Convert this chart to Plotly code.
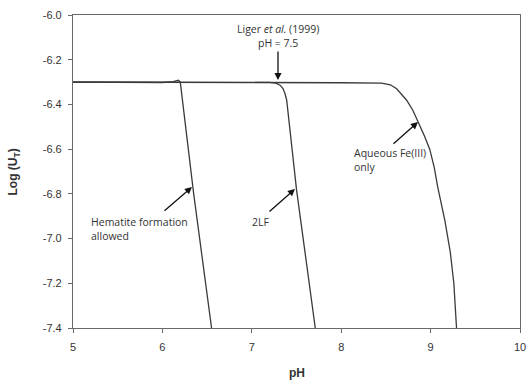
import plotly.graph_objects as go

# Data
hem_ph = [5.0, 5.5, 6.0, 6.12, 6.18, 6.2, 6.35, 6.55]
hem_logu = [-6.300, -6.302, -6.302, -6.298, -6.292, -6.300, -6.800, -7.400]

lf_ph = [5.0, 6.0, 7.0, 7.2, 7.27, 7.32, 7.35, 7.37, 7.39, 7.5, 7.71]
lf_logu = [-6.300, -6.300, -6.300, -6.301, -6.305, -6.315, -6.33, -6.35, -6.38, -6.78, -7.40]

aq_ph = [5.0, 6.0, 7.0, 8.0, 8.45, 8.55, 8.62, 8.68, 8.73, 8.80, 8.86, 8.93, 8.99, 9.04, 9.08, 9.12, 9.16, 9.22, 9.26, 9.29]
aq_logu = [-6.300, -6.300, -6.300, -6.303, -6.305, -6.312, -6.33, -6.355, -6.38, -6.425, -6.477, -6.54, -6.60, -6.68, -6.77, -6.84, -6.92, -7.06, -7.20, -7.40]

x_ticks = [5, 6, 7, 8, 9, 10]
y_ticks = [-6.0, -6.2, -6.4, -6.6, -6.8, -7.0, -7.2, -7.4]

line_color = "#3a3a3a"
fig = go.Figure()
for xs, ys in [(hem_ph, hem_logu), (lf_ph, lf_logu), (aq_ph, aq_logu)]:
    fig.add_trace(go.Scatter(x=xs, y=ys, mode="lines",
                             line=dict(color=line_color, width=1.3),
                             showlegend=False, hoverinfo="skip"))

afont = dict(family="Open Sans, Noto Sans, sans-serif", size=10.5, color="#333")
tfont = dict(family="Liberation Sans, Arial, sans-serif", size=12, color="#333")
arrow = dict(showarrow=True, arrowhead=2, arrowsize=1.1, arrowwidth=1.3,
             arrowcolor="#111", standoff=0, startstandoff=0, text="",
             xref="x", yref="y")
annotations = [
    dict(x=7.293, y=-6.291, ax=0, ay=-30, **arrow),
    dict(x=8.859, y=-6.4785, ax=-26, ay=23, **arrow),
    dict(x=7.483, y=-6.778, ax=-27, ay=24, **arrow),
    dict(x=6.331, y=-6.769, ax=-29, ay=25, **arrow),
    dict(x=7.293, y=-6.094, text="Liger <i>et al.</i> (1999)<br>pH = 7.5",
         showarrow=False, xanchor="center", yanchor="middle", align="center", font=afont),
    dict(x=8.121, y=-6.648, text="Aqueous Fe(III)<br>only",
         showarrow=False, xanchor="left", yanchor="middle", align="left", font=afont),
    dict(x=6.98, y=-6.926, text="2LF",
         showarrow=False, xanchor="left", yanchor="middle", align="left", font=afont),
    dict(x=5.179, y=-6.957, text="Hematite formation<br>allowed",
         showarrow=False, xanchor="left", yanchor="middle", align="left", font=afont),
    # axis titles
    dict(xref="paper", yref="paper", x=0.5, y=-0.145, text="<b>pH</b>",
         showarrow=False, xanchor="center", yanchor="middle", font=tfont),
    dict(xref="paper", yref="paper", x=-0.132, y=0.5, text="<b>Log (U<sub>T</sub>)</b>",
         showarrow=False, xanchor="center", yanchor="middle", textangle=-90, font=tfont),
]

axis_common = dict(showline=True, linecolor="#6a6a6a", linewidth=1.2, mirror=True,
                   ticks="outside", ticklen=4, tickcolor="#6a6a6a", tickwidth=1,
                   showgrid=False, zeroline=False, automargin=False,
                   tickfont=dict(family="Liberation Sans, Arial, sans-serif", size=11, color="#333"))

fig.update_layout(
    width=527, height=380,
    margin=dict(l=73, r=7, t=15, b=52),
    paper_bgcolor="white", plot_bgcolor="white",
    annotations=annotations,
    xaxis=dict(range=[5, 10], tickvals=x_ticks, ticktext=[str(v) for v in x_ticks],
               ticklabelstandoff=5, **axis_common),
    yaxis=dict(range=[-7.4, -6.0], tickvals=y_ticks, ticktext=[f"{v:.1f}" for v in y_ticks],
               ticklabelstandoff=4, **axis_common),
)

fig.write_html("out.html", config={"displayModeBar": False},
               post_script="document.body.style.margin='0';document.body.style.overflow='hidden';")
